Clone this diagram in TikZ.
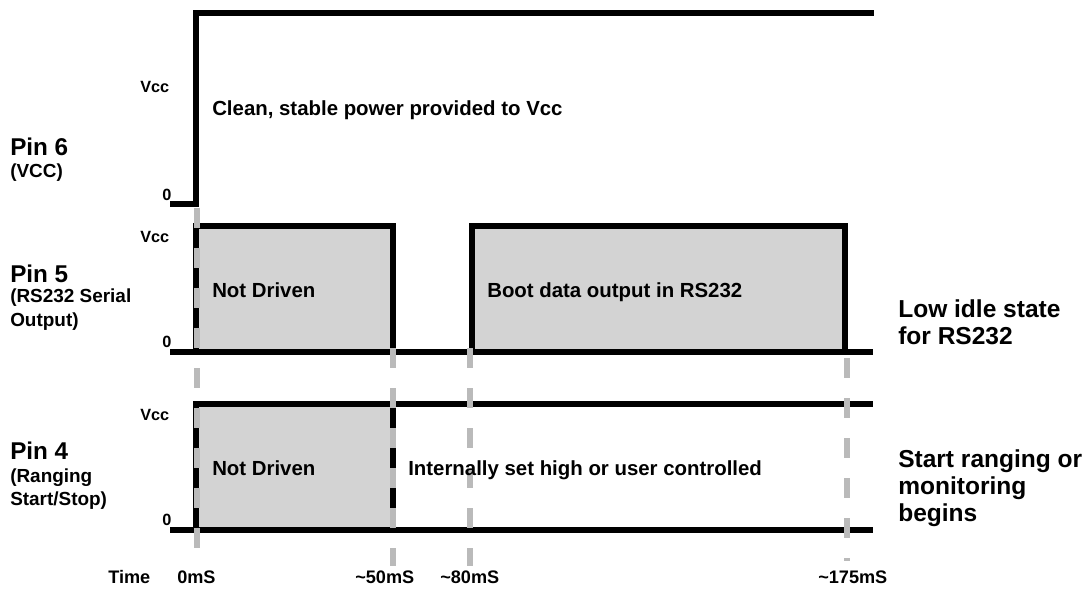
\documentclass[tikz,border=0pt]{standalone}
\usepackage{fontspec}
\setmainfont{Liberation Sans}

\definecolor{boxgray}{RGB}{211,211,211}
\definecolor{guidegray}{RGB}{186,186,186}

\begin{document}
\begin{tikzpicture}[x=0.75pt,y=-0.75pt,line cap=butt,
    sig/.style={line width=4.1pt, line join=miter},
    guide/.style={guidegray, line width=3.8pt, dash pattern=on 15pt off 15pt},
    pinname/.style={anchor=base west, inner sep=0pt, font=\bfseries\fontsize{18.2}{20}\selectfont},
    pinsub/.style={anchor=base west, inner sep=0pt, font=\bfseries\fontsize{14.2}{16}\selectfont},
    level/.style={anchor=base west, inner sep=0pt, font=\bfseries\fontsize{12.2}{14}\selectfont},
    note/.style={anchor=base west, inner sep=0pt, font=\bfseries\fontsize{15.3}{17}\selectfont},
    side/.style={anchor=base west, inner sep=0pt, font=\bfseries\fontsize{18.4}{20}\selectfont},
    tick/.style={anchor=base west, inner sep=0pt, font=\bfseries\fontsize{13.6}{15}\selectfont}]
            \useasboundingbox (0,0) rectangle (1084,592);
            % grey boxes
            \fill[boxgray] (196,226) rectangle (393,352);   %pin5 a
            \fill[boxgray] (472,226) rectangle (845,352);   %pin5 b
            \fill[boxgray] (196,404) rectangle (393,530);   %pin4
            % signals
            \draw[sig] (170,204) -- (196,204) -- (196,13) -- (874,13);        % pin6
            \draw[sig] (196,352) -- (196,226) -- (393,226) -- (393,352);      % pin5 a
            \draw[sig] (472,352) -- (472,226) -- (845,226) -- (845,352);      % pin5 b
            \draw[sig] (170,352) -- (873,352);
            \draw[sig] (196,530) -- (196,404) -- (873,404);                   % pin4
            \draw[sig] (393,404) -- (393,530);
            \draw[sig] (170,530) -- (873,530);
            % time marks
            \draw[guide] (197,208) -- (197,556);    %0
            \draw[guide] (393,348) -- (393,566);    %50
            \draw[guide] (470,348) -- (470,566);    %80
            \draw[guide] (847,358) -- (847,561);    %175
            % pin names
            \node[pinname] (pin6) at (10,155) {Pin 6};
            \node[pinsub] (pin6sub) at (10,177) {(VCC)};
            \node[pinname] (pin5) at (10,282) {Pin 5};
            \node[pinsub] (pin5sub) at (10,302) {(RS232 Serial};
            \node[pinsub] (pin5sub2) at (10,326) {Output)};
            \node[pinname] (pin4) at (10,459) {Pin 4};
            \node[pinsub] (pin4sub) at (10,482) {(Ranging};
            \node[pinsub] (pin4sub2) at (10,505) {Start/Stop)};
            % levels
            \node[level] (vcc6) at (140,93) {Vcc};
            \node[level] (zero6) at (162,200) {0};
            \node[level] (vcc5) at (140,242) {Vcc};
            \node[level] (zero5) at (162,347) {0};
            \node[level] (vcc4) at (140,420) {Vcc};
            \node[level] (zero4) at (162,525) {0};
            % notes
            \node[note] (clean) at (212,115) {Clean, stable power provided to Vcc};
            \node[note] (nd5) at (212,297) {Not Driven};
            \node[note] (boot) at (487,297) {Boot data output in RS232};
            \node[note] (nd4) at (212,475) {Not Driven};
            \node[note] (inthigh) at (408,475) {Internally set high or user controlled};
            % right side
            \foreach \t [count=\i] in {Low idle state, for RS232}
                \node[side] (low\i) at (898,290+27*\i) {\t};
            \foreach \t [count=\i] in {Start ranging or, monitoring, begins}
                \node[side] (start\i) at (898,440+27*\i) {\t};
            % time axis
            \node[tick] (time) at (108,583) {Time};
            \node[tick] (t0) at (177,583) {0mS};
            \node[tick] (t50) at (355,583) {\textasciitilde 50mS};
            \node[tick] (t80) at (440,583) {\textasciitilde 80mS};
            \node[tick] (t175) at (818,583) {\textasciitilde 175mS};
\end{tikzpicture}
\end{document}
